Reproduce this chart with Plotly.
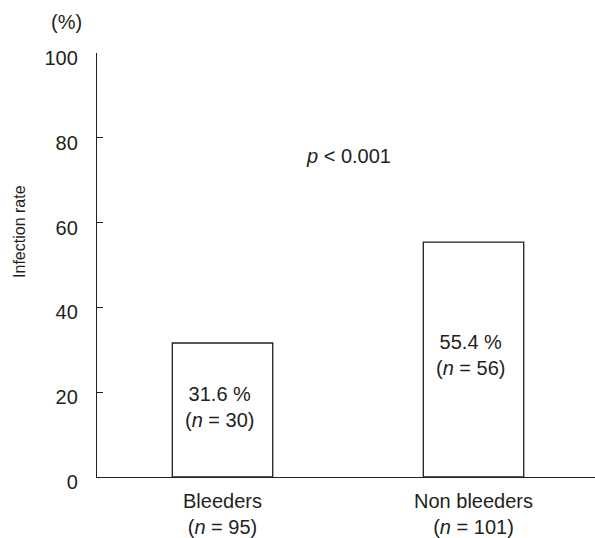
import plotly.graph_objects as go

# Infection rate by group
groups = ["Bleeders", "Non bleeders"]
group_n = [95, 101]
rates = [31.6, 55.4]
infected_n = [30, 56]
y_ticks = [0, 20, 40, 60, 80, 100]
p_text = "<i>p</i> < 0.001"

INK = "#231F20"
FONT = "Liberation Sans, Arial, Helvetica, sans-serif"

tick_text = [f"{g}<br>(<i>n</i> = {n})" for g, n in zip(groups, group_n)]

fig = go.Figure()
fig.add_trace(go.Bar(
    x=list(range(len(groups))),
    y=rates,
    width=0.4,
    marker=dict(color="white", line=dict(color=INK, width=1.3)),
    hoverinfo="skip",
))

# percentage and count written inside each bar
for i, (r, k) in enumerate(zip(rates, infected_n)):
    fig.add_annotation(
        x=i, y=r * 0.52, xref="x", yref="y",
        xanchor="center", yanchor="middle",
        text=f"{r} %<br>(<i>n</i> = {k})",
        showarrow=False, xshift=-3,
        font=dict(size=20, color=INK, family=FONT),
    )

fig.add_annotation(
    x=0.506, y=75.6, xref="paper", yref="y",
    xanchor="center", yanchor="middle",
    text=p_text, showarrow=False,
    font=dict(size=20, color=INK, family=FONT),
)
fig.add_annotation(
    x=-0.061, y=1.0726, xref="paper", yref="paper",
    xanchor="center", yanchor="middle",
    text="(%)", showarrow=False,
    font=dict(size=20, color=INK, family=FONT),
)
fig.add_annotation(
    x=-0.1546, y=0.578, xref="paper", yref="paper",
    xanchor="center", yanchor="middle",
    text="Infection rate", showarrow=False, textangle=-90,
    font=dict(size=16, color=INK, family=FONT),
)

fig.update_layout(
    width=595, height=538,
    margin=dict(l=97, r=0, t=53, b=58),
    paper_bgcolor="white", plot_bgcolor="white",
    showlegend=False,
    font=dict(family=FONT, size=20, color=INK),
    xaxis=dict(
        range=[-0.5, 1.484],
        tickmode="array",
        tickvals=list(range(len(groups))),
        ticktext=tick_text,
        ticks="",
        ticklabelstandoff=6,
        showgrid=False, zeroline=False,
        showline=True, linecolor=INK, linewidth=1.3,
        tickfont=dict(size=20, color=INK, family=FONT),
    ),
    yaxis=dict(
        range=[0, 100],
        tickmode="array",
        tickvals=y_ticks,
        ticks="inside", ticklen=6, tickwidth=1.3, tickcolor=INK,
        ticklabelstandoff=14,
        ticklabelshift=5,
        showgrid=False, zeroline=False,
        showline=True, linecolor=INK, linewidth=1.3,
        tickfont=dict(size=20, color=INK, family=FONT),
    ),
)

fig.write_html("out.html")
